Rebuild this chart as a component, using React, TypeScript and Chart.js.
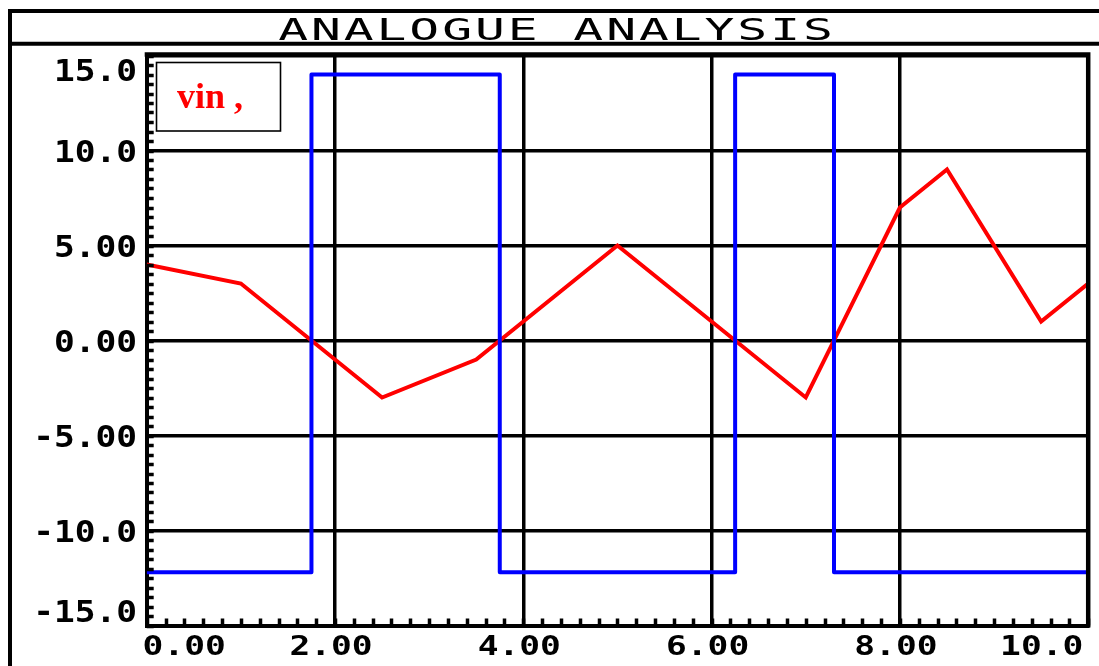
import { useEffect, useRef } from "react";
import { Chart, registerables } from "chart.js";

Chart.register(...registerables);

const titleText = "ANALOGUE ANALYSIS";
const legendText = "vin ,";
const xTicks = [0, 2, 4, 6, 8, 10];
const xTickLabels = ["0.00", "2.00", "4.00", "6.00", "8.00", "10.0"];
const yTicks = [-15, -10, -5, 0, 5, 10, 15];
const yTickLabels = ["-15.0", "-10.0", "-5.00", "0.00", "5.00", "10.0", "15.0"];
const vinX = [0, 1, 2.5, 3.5, 5, 7, 8, 8.5, 9.5, 10];
const vinY = [4, 3, -3, -1, 5, -3, 7, 9, 1, 3];
const stepX = [0, 1.75, 3.75, 6.25, 7.3, 10];
const stepY = [-12.2, 14, -12.2, 14, -12.2, -12.2];

const MONO = "'DejaVu Sans Mono', 'Liberation Mono', monospace";

function wideText(
  ctx: CanvasRenderingContext2D,
  text: string,
  x: number,
  baseline: number,
  font: string,
  sx: number,
  align: CanvasTextAlign
) {
  ctx.save();
  ctx.font = font;
  ctx.textAlign = align;
  ctx.textBaseline = "alphabetic";
  ctx.translate(x, baseline);
  ctx.scale(sx, 1);
  ctx.fillText(text, 0, 0);
  ctx.restore();
}

const decor = {
  id: "decor",
  afterDraw(chart: any) {
    const ctx: CanvasRenderingContext2D = chart.ctx;
    const a = chart.chartArea;
    const xs = chart.scales.x;
    const ys = chart.scales.y;
    ctx.save();
    ctx.strokeStyle = "#000";
    ctx.fillStyle = "#000";
    ctx.lineCap = "butt";

    // outer frame + title band
    ctx.lineWidth = 4;
    ctx.beginPath();
    ctx.moveTo(10, 9);
    ctx.lineTo(10, 666);
    ctx.moveTo(8, 11);
    ctx.lineTo(1099, 11);
    ctx.moveTo(8, 43.7);
    ctx.lineTo(1099, 43.7);
    ctx.stroke();

    // top and right plot border
    ctx.lineWidth = 4.5;
    ctx.beginPath();
    ctx.moveTo(a.left - 2, a.top - 1);
    ctx.lineTo(a.right, a.top - 1);
    ctx.lineTo(a.right, a.bottom + 2);
    ctx.stroke();

    // minor ticks on y axis (every 0.5)
    ctx.lineWidth = 3.5;
    ctx.beginPath();
    for (let v = -15; v <= 15.0001; v += 0.5) {
      const py = Math.round(ys.getPixelForValue(v)) + 0.5;
      ctx.moveTo(a.left, py);
      ctx.lineTo(a.left + 7, py);
    }
    // minor ticks on x axis (every 0.2)
    for (let v = 0; v <= 10.0001; v += 0.2) {
      const px = Math.round(xs.getPixelForValue(v)) + 0.5;
      ctx.moveTo(px, a.bottom);
      ctx.lineTo(px, a.bottom - 7);
    }
    ctx.stroke();

    // title
    const chars = titleText.split("");
    const mid = (chars.length - 1) / 2;
    const pitch = 32.8;
    const titleCenter = 555.5;
    chars.forEach((c, i) => {
      if (c === " ") return;
      wideText(ctx, c, titleCenter + (i - mid) * pitch, 39.5, `31px ${MONO}`, 1.6, "center");
    });

    // y tick labels
    yTicks.forEach((v, i) => {
      let py = ys.getPixelForValue(v);
      py = Math.min(Math.max(py, a.top + 14), a.bottom - 14.5);
      wideText(ctx, yTickLabels[i], 137, py + 11, `bold 30px ${MONO}`, 1.15, "right");
    });

    // x tick labels
    xTicks.forEach((v, i) => {
      const w = 83;
      let px = xs.getPixelForValue(v) - 4;
      px = Math.min(Math.max(px, a.left - 4 + w / 2), a.right - 5 - w / 2);
      wideText(ctx, xTickLabels[i], px, 654.5, `bold 27px ${MONO}`, 1.28, "center");
    });

    // legend box
    ctx.lineWidth = 1.6;
    ctx.strokeStyle = "#000";
    ctx.strokeRect(156.5, 62.5, 124, 68.5);
    ctx.fillStyle = "#ff0000";
    ctx.font = "bold 36px 'Liberation Serif', 'Times New Roman', serif";
    ctx.textAlign = "left";
    ctx.textBaseline = "alphabetic";
    ctx.fillText(legendText, 177, 107.5);

    ctx.restore();
  },
};

export default function App() {
  const ref = useRef<HTMLCanvasElement | null>(null);

  useEffect(() => {
    if (!ref.current) return;
    const chart = new Chart(ref.current, {
      type: "line",
      data: {
        datasets: [
          {
            label: "vout",
            data: stepX.map((x, i) => ({ x, y: stepY[i] })),
            borderColor: "#0000ff",
            borderWidth: 4,
            pointRadius: 0,
            stepped: true,
            fill: false,
            borderJoinStyle: "round",
          },
          {
            label: "vin",
            data: vinX.map((x, i) => ({ x, y: vinY[i] })),
            borderColor: "#ff0000",
            borderWidth: 4,
            pointRadius: 0,
            tension: 0,
            fill: false,
          },
        ],
      },
      options: {
        responsive: false,
        animation: false,
        events: [],
        layout: { padding: { left: 10, top: 55.5, right: 10.8, bottom: 0 } },
        plugins: {
          legend: { display: false },
          tooltip: { enabled: false },
          title: { display: false },
        },
        scales: {
          x: {
            type: "linear",
            min: 0,
            max: 10,
            ticks: { display: false, stepSize: 2 },
            grid: { color: "#000", lineWidth: 3.5, drawTicks: false },
            border: { display: true, color: "#000", width: 4 },
            afterFit: (s: any) => {
              s.height = 40.5;
            },
          },
          y: {
            type: "linear",
            min: -15,
            max: 15,
            ticks: { display: false, stepSize: 5 },
            grid: { color: "#000", lineWidth: 3.5, drawTicks: false },
            border: { display: true, color: "#000", width: 4 },
            afterFit: (s: any) => {
              s.width = 136.7;
            },
          },
        },
      },
      plugins: [decor],
    } as any);
    return () => chart.destroy();
  }, []);

  return (
    <div style={{ position: "absolute", left: 0, top: 0, width: 1099, height: 666, background: "#fff" }}>
      <canvas ref={ref} width={1099} height={666} style={{ display: "block" }} />
    </div>
  );
}
